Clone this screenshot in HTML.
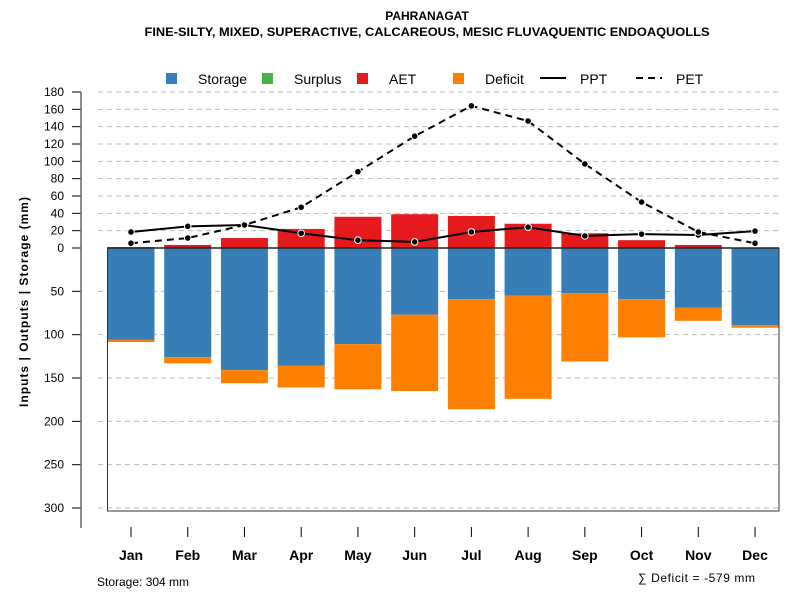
<!DOCTYPE html>
<html><head><meta charset="utf-8"><style>body{margin:0;background:#fff}svg{display:block;font-family:"Liberation Sans",sans-serif}</style></head>
<body>
<svg id="c" width="800" height="600">
<text x="427" y="20" text-anchor="middle" font-size="12" font-weight="bold">PAHRANAGAT</text>
<text x="427" y="36" text-anchor="middle" font-size="12" font-weight="bold" textLength="565" lengthAdjust="spacingAndGlyphs">FINE-SILTY, MIXED, SUPERACTIVE, CALCAREOUS, MESIC FLUVAQUENTIC ENDOAQUOLLS</text>
<g id="grid"></g><g id="bars"></g><g id="lines"></g><g id="axes"></g>
<g font-size="14">
<rect x="166" y="73" width="11" height="11" fill="#377eb8"/><text x="198" y="84">Storage</text>
<rect x="262" y="73" width="11" height="11" fill="#4daf4a"/><text x="294" y="84">Surplus</text>
<rect x="357" y="73" width="11" height="11" fill="#e41a1c"/><text x="389" y="84">AET</text>
<rect x="453" y="73" width="11" height="11" fill="#ff7f00"/><text x="485" y="84">Deficit</text>
<line x1="540" y1="78" x2="566" y2="78" stroke="#000" stroke-width="2"/><text x="580" y="84">PPT</text>
<line x1="636" y1="78" x2="662" y2="78" stroke="#000" stroke-width="2" stroke-dasharray="7,5"/><text x="676" y="84">PET</text>
</g>
<text transform="translate(28,302) rotate(-90)" text-anchor="middle" font-size="12" font-weight="bold" textLength="210">Inputs | Outputs | Storage    (mm)</text>
<text x="97" y="586" font-size="12">Storage: 304 mm</text>
<text x="638" y="582" font-size="12" textLength="117">∑ Deficit = -579 mm</text>
</svg>
<script>
const months=["Jan","Feb","Mar","Apr","May","Jun","Jul","Aug","Sep","Oct","Nov","Dec"];
const storage=[106,126,141,136,111,77,59,55,52,59,69,89];
const deficit=[2.5,7,15,25,52,88,127,119,79,44,15,3];
const aet=[1,3.5,11.5,22,36,39,37,28,17,9,3.5,0];
const ppt=[18.5,25,26.5,17,9,7,18.5,24,14,16,15,19.5];
const pet=[5.5,11.5,26.5,47,88,129,164,146.5,97,53,18.5,5.5];
const posTicks=[0,20,40,60,80,100,120,140,160,180];
const negTicks=[50,100,150,200,250,300];
const NS="http://www.w3.org/2000/svg";
const y=v=>248-v*0.8667;
const x=i=>131+i*56.73;
function el(t,a,p){const e=document.createElementNS(NS,t);for(const k in a)e.setAttribute(k,a[k]);document.getElementById(p).appendChild(e);return e;}
const ticks=posTicks.map(v=>[v,y(v)]).concat(negTicks.map(v=>[v,y(-v)]));
ticks.forEach(([v,yy])=>{
 if(v!==0){const g=el("line",{x1:98,x2:779,y1:yy,y2:yy,stroke:"#bbb","stroke-dasharray":"5,4"},"grid");
 
 }
 const t=el("line",{x1:72,x2:81,y1:yy,y2:yy,stroke:"#000"},"axes");
 
 
 const l=el("text",{x:64,y:yy+4,"text-anchor":"end","font-size":12},"axes");l.textContent=v;
 
 
});
const ax=el("line",{x1:81,x2:81,y1:y(180),y2:528,stroke:"#666","stroke-width":1.5},"axes");


const box=el("rect",{x:107.5,y:248,width:671.5,height:263,fill:"none",stroke:"#333"},"axes");


months.forEach((m,i)=>{
 const cx=x(i),w=47;
 const s=el("rect",{x:cx-w/2,y:248,width:w,height:storage[i]*0.8667,fill:"#377eb8"},"bars");
 
 
 const d=el("rect",{x:cx-w/2,y:y(-storage[i]),width:w,height:deficit[i]*0.8667,fill:"#ff7f00"},"bars");
 
 
 const a=el("rect",{x:cx-w/2,y:y(aet[i]),width:w,height:aet[i]*0.8667,fill:"#e41a1c"},"bars");
 
 
 const t=el("line",{x1:cx,x2:cx,y1:527,y2:537,stroke:"#000"},"axes");
 
 
 const l=el("text",{x:cx,y:560,"text-anchor":"middle","font-size":14,"font-weight":"bold"},"axes");l.textContent=m;
 
 
});
const zl=el("line",{x1:107,x2:779,y1:248,y2:248,stroke:"#000","stroke-width":1.5},"bars");


[[ppt,"ppt",""],[pet,"pet","7,5"]].forEach(([arr,n,da])=>{
 const p=el("polyline",{points:arr.map((v,i)=>x(i)+","+y(v)).join(" "),fill:"none",stroke:"#000","stroke-width":2,"stroke-dasharray":da},"lines");
 
 
 arr.forEach((v,i)=>{const c=el("circle",{cx:x(i),cy:y(v),r:3.3,fill:"#000",stroke:"#fff","stroke-width":1},"lines");
 
 });
});
</script>
</body></html>
